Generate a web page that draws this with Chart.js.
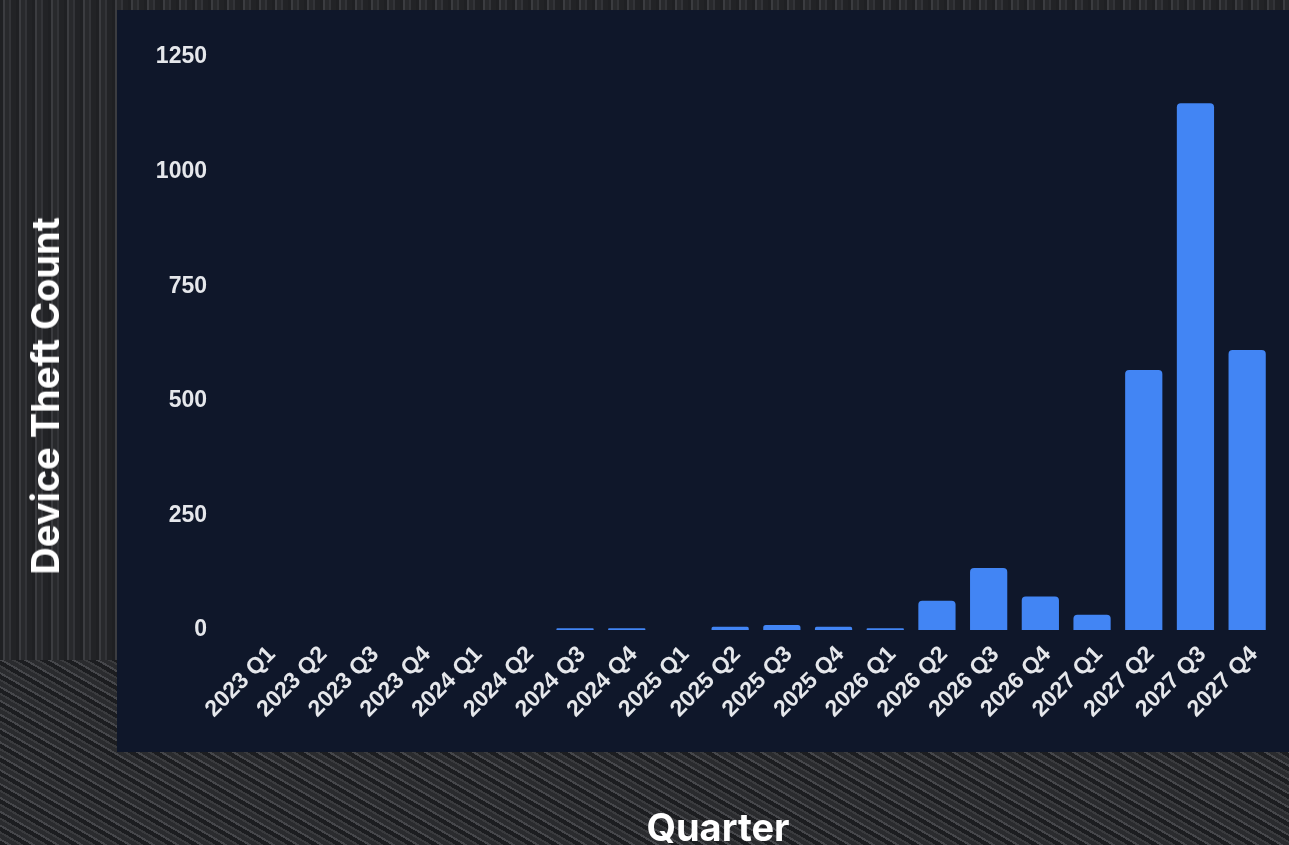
<!DOCTYPE html>
<html lang="en">
<head>
    <meta charset="UTF-8">
    <meta name="viewport" content="width=device-width, initial-scale=1.0">
    <title>Device Theft Count by Quarter</title>
    <script src="https://cdn.jsdelivr.net/npm/chart.js"></script>
    <style>
        html, body {
            margin: 0;
            padding: 0;
            width: 1289px;
            height: 845px;
            overflow: hidden;
        }
        body {
            position: relative;
            background-color: #27282b;
            background-image: repeating-linear-gradient(90deg, #1f2023 0px, #1f2023 3px, #3b3c40 3px, #3b3c40 5px, #28292c 5px, #28292c 9px, #333438 9px, #333438 11px, #222326 11px, #222326 16px);
        }
        .floor {
            position: absolute;
            left: 0;
            top: 660px;
            width: 1289px;
            height: 185px;
            background-image: repeating-linear-gradient(30deg, #1c1d20 0px, #1c1d20 4px, #46474b 4px, #46474b 6px, #2a2b2e 6px, #2a2b2e 10px, #3a3b3e 10px, #3a3b3e 12px);
        }
        .panel {
            position: absolute;
            left: 117px;
            top: 10px;
            width: 1172px;
            height: 742px;
            background: #0f172a;
        }
        #chartWrap {
            position: absolute;
            left: 0;
            top: 0;
            width: 1289px;
            height: 845px;
        }
        .axisTitle {
            position: absolute;
            font-family: Inter, "Noto Sans", sans-serif;
            font-size: 38px;
            font-weight: bold;
            line-height: 1;
            color: #ffffff;
            white-space: nowrap;
        }
        #yTitle {
            left: 45px;
            top: 396px;
            transform: translate(-50%, -50%) rotate(-90deg);
        }
        #xTitle {
            left: 718px;
            top: 827px;
            transform: translate(-50%, -50%);
        }
    </style>
</head>
<body>
    <div class="floor"></div>
    <div class="panel"></div>
    <div id="chartWrap">
        <canvas id="theftChart" width="1289" height="845"></canvas>
    </div>
    <div class="axisTitle" id="yTitle">Device Theft Count</div>
    <div class="axisTitle" id="xTitle">Quarter</div>

    <script>
        // quarters and device theft counts
        const quarters = [
            '2023 Q1', '2023 Q2', '2023 Q3', '2023 Q4',
            '2024 Q1', '2024 Q2', '2024 Q3', '2024 Q4',
            '2025 Q1', '2025 Q2', '2025 Q3', '2025 Q4',
            '2026 Q1', '2026 Q2', '2026 Q3', '2026 Q4',
            '2027 Q1', '2027 Q2', '2027 Q3', '2027 Q4'
        ];
        const theftCounts = [
            0, 0, 0, 0,
            0, 0, 4, 4,
            0, 7, 11, 7,
            4, 64, 135, 73,
            33, 567, 1149, 611
        ];
        const yStep = 250;
        const yMax = 1250;

        const tickFont = { family: '"Liberation Sans", Arial, sans-serif', size: 23, weight: 'bold' };

        new Chart(document.getElementById('theftChart'), {
            type: 'bar',
            data: {
                labels: quarters,
                datasets: [{
                    label: 'Device Theft Count',
                    data: theftCounts,
                    backgroundColor: '#4285f4',
                    borderRadius: 4,
                    borderSkipped: 'bottom'
                }]
            },
            options: {
                responsive: false,
                animation: false,
                layout: {
                    padding: { top: 57, right: 16, bottom: 0, left: 0 }
                },
                plugins: {
                    legend: { display: false },
                    tooltip: { enabled: false }
                },
                scales: {
                    x: {
                        grid: { display: false },
                        border: { display: false },
                        ticks: {
                            color: '#e5e7eb',
                            font: tickFont,
                            minRotation: 45,
                            maxRotation: 45,
                            autoSkip: false,
                            padding: 3,
                            labelOffset: 7
                        },
                        afterFit: (scale) => { scale.height = 215; }
                    },
                    y: {
                        beginAtZero: true,
                        max: yMax,
                        grid: { display: false },
                        border: { display: false },
                        ticks: {
                            stepSize: yStep,
                            color: '#e5e7eb',
                            font: tickFont,
                            padding: 24,
                            callback: (value) => String(value)
                        },
                        afterFit: (scale) => { scale.width = 239; }
                    }
                }
            }
        });
    </script>
</body>
</html>
